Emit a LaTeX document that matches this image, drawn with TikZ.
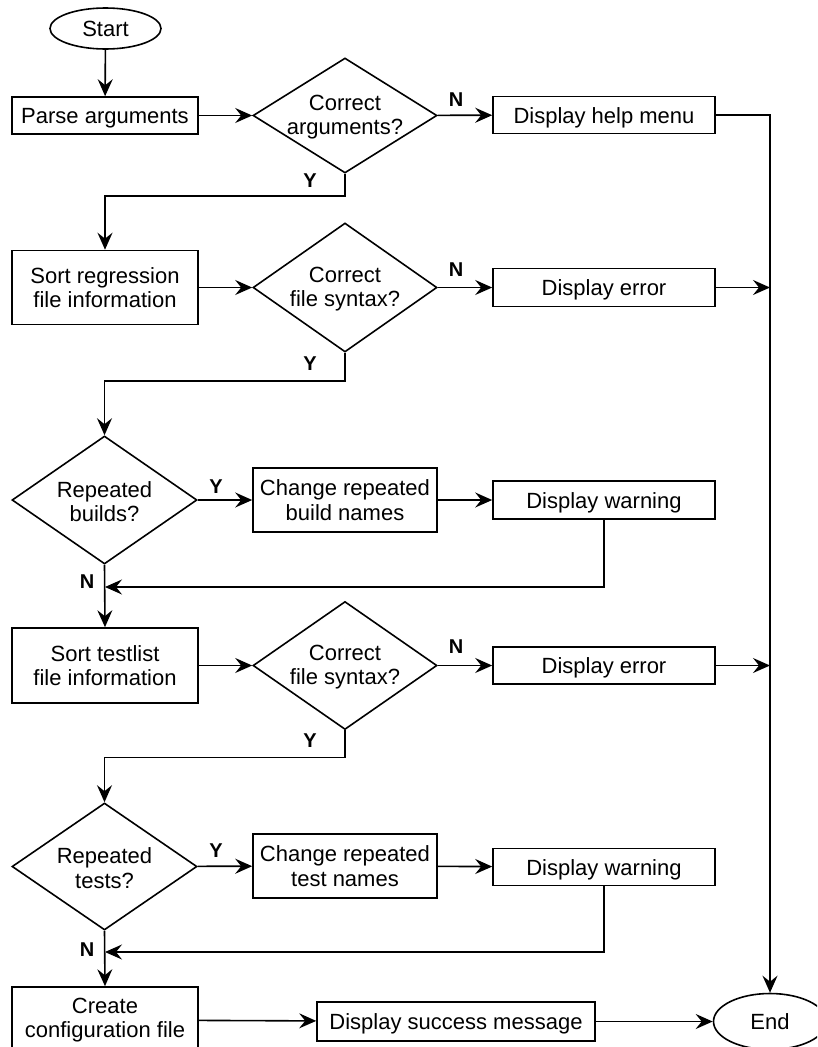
\documentclass[tikz,border=0pt]{standalone}
\usepackage{fontspec}
\setmainfont{Liberation Sans}
\usetikzlibrary{shapes.geometric,arrows.meta}
\begin{document}
\begin{tikzpicture}[x=1pt,y=-1pt,
  every node/.style={font=\fontsize{22}{24.5}\selectfont, align=center, line width=1.6pt},
  flow/.style={draw=black, line width=1.6pt, -{Stealth[length=17pt,width=15pt,inset=6pt]}},
  proc/.style={draw, rectangle, inner sep=0pt},
  oneline/.style={text height=18pt, text depth=2pt},
  term/.style={draw, ellipse, inner sep=0pt, oneline},
  decide/.style={draw, diamond, inner sep=0pt},
  qtext/.style={yshift=-1.5pt},
  tag/.style={font=\bfseries\fontsize{20}{22}\selectfont, inner sep=0pt}
]
\useasboundingbox (0,0) rectangle (817,1047);
\clip (0,0) rectangle (817,1047);

% process nodes
\node[term, minimum width=111pt, minimum height=41pt] (start) at (105.5,28.5) {Start};
\node[proc, oneline, minimum width=186pt, minimum height=37pt] (parse) at (105,115.5) {Parse arguments};
\node[decide, minimum width=184pt, minimum height=115pt,
      label={[name=q1t, qtext]center:Correct\\arguments?}] (q1) at (345,115.5) {};
\node[proc, oneline, minimum width=222pt, minimum height=37pt] (help) at (604,115) {Display help menu};

\node[proc, minimum width=186pt, minimum height=74pt] (sortreg) at (105,287.5) {Sort regression\\file information};
\node[decide, minimum width=184pt, minimum height=129pt,
      label={[name=q2t, qtext]center:Correct\\file syntax?}] (q2) at (345,287.5) {};
\node[proc, oneline, minimum width=222pt, minimum height=38pt] (err1) at (604,287.5) {Display error};

\node[decide, minimum width=185pt, minimum height=128pt,
      label={[name=q3t, qtext]center:Repeated\\builds?}] (q3) at (104.5,500) {};
\node[proc, minimum width=184pt, minimum height=64pt] (chb) at (345,500) {Change repeated\\build names};
\node[proc, oneline, minimum width=222pt, minimum height=38pt] (warn1) at (604,500) {Display warning};

\node[proc, minimum width=186pt, minimum height=75pt] (sorttl) at (105,665.5) {Sort testlist\\file information};
\node[decide, minimum width=184pt, minimum height=128pt,
      label={[name=q4t, qtext]center:Correct\\file syntax?}] (q4) at (345,665.5) {};
\node[proc, oneline, minimum width=222pt, minimum height=37pt] (err2) at (604,665.5) {Display error};

\node[decide, minimum width=185pt, minimum height=127pt,
      label={[name=q5t, qtext]center:Repeated\\tests?}] (q5) at (104.5,866.5) {};
\node[proc, minimum width=184pt, minimum height=64pt] (cht) at (345,866) {Change repeated\\test names};
\node[proc, oneline, minimum width=222pt, minimum height=37pt] (warn2) at (604,867) {Display warning};

\node[proc, minimum width=186pt, minimum height=66pt] (create) at (105,1020) {Create\\configuration file};
\node[proc, oneline, minimum width=278pt, minimum height=39pt] (succ) at (456,1021.5) {Display success message};
\node[term, minimum width=113pt, minimum height=56pt] (end) at (770,1021.5) {End};

% merge points on the main column
\coordinate (m1) at (105,587);
\coordinate (m2) at (105,952);

% branch labels
\node[tag] (n1) at (456,100) {N};
\node[tag] (y1) at (310,181) {Y};
\node[tag] (n2) at (456,270) {N};
\node[tag] (y2) at (310,364) {Y};
\node[tag] (y3) at (216,487) {Y};
\node[tag] (n3) at (87,582) {N};
\node[tag] (n4) at (456,647) {N};
\node[tag] (y4) at (310,741) {Y};
\node[tag] (y5) at (216,851) {Y};
\node[tag] (n5) at (87,950) {N};

% connectors
\draw[flow] (start) -- (parse);
\draw[flow] (parse) -- (q1);
\draw[flow] (q1) -- (help);
\draw[flow] (help.east) -| (end.north);
\draw[flow] (q1.south) -- ++(0,22) -| (sortreg.north);

\draw[flow] (sortreg) -- (q2);
\draw[flow] (q2) -- (err1);
\draw[flow] (err1.east) -- (err1.east -| end.north);
\draw[flow] (q2.south) -- ++(0,28) -| (q3.north);

\draw[flow] (q3) -- (chb);
\draw[flow] (chb) -- (warn1);
\draw[flow] (warn1.south) |- (m1);
\draw[flow] (q3.south) -- (sorttl.north);

\draw[flow] (sorttl) -- (q4);
\draw[flow] (q4) -- (err2);
\draw[flow] (err2.east) -- (err2.east -| end.north);
\draw[flow] (q4.south) -- ++(0,27) -| (q5.north);

\draw[flow] (q5) -- (cht);
\draw[flow] (cht) -- (warn2);
\draw[flow] (warn2.south) |- (m2);
\draw[flow] (q5.south) -- (create.north);

\draw[flow] (create) -- (succ);
\draw[flow] (succ) -- (end);
\end{tikzpicture}
\end{document}
